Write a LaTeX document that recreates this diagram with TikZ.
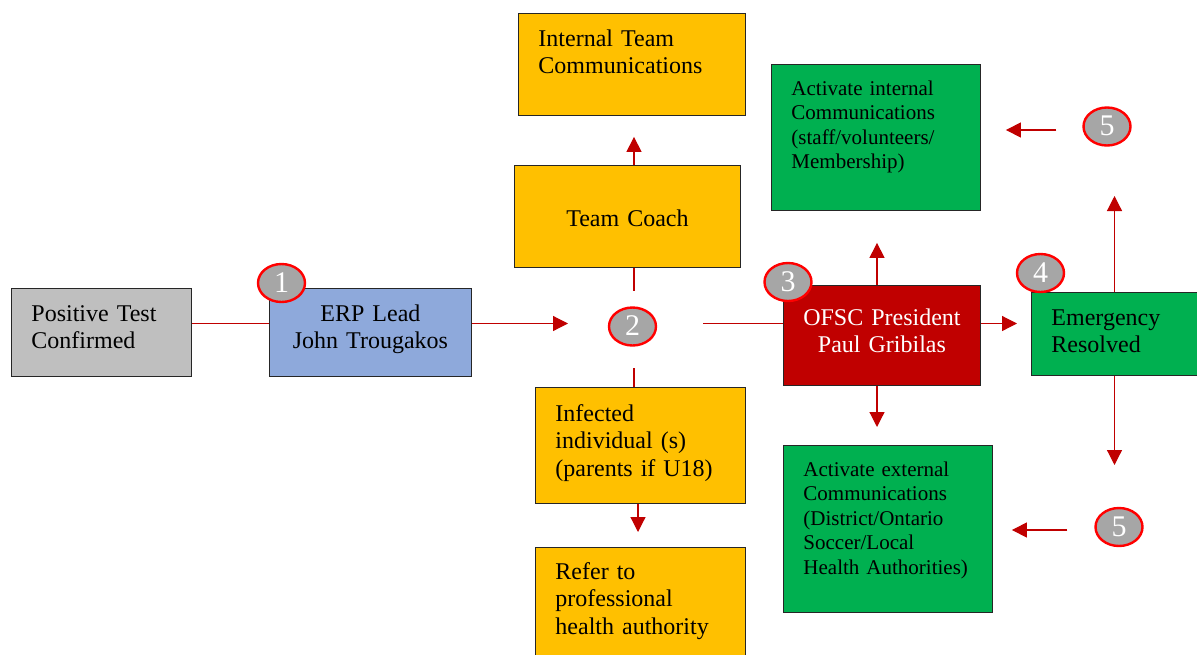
\documentclass[tikz,border=0pt]{standalone}
\usepackage{fontspec}
\setmainfont{Liberation Serif}
\usetikzlibrary{arrows.meta,shapes.geometric}
\definecolor{boxgray}{HTML}{BFBFBF}
\definecolor{boxblue}{HTML}{8EA9DB}
\definecolor{boxorange}{HTML}{FFC000}
\definecolor{boxgreen}{HTML}{00B050}
\definecolor{boxred}{HTML}{C00000}
\definecolor{linered}{HTML}{C00000}
\definecolor{badgegray}{HTML}{A6A6A6}
\definecolor{badgering}{HTML}{FF0000}
\newcommand{\bigtxt}{\fontsize{24}{27.3}\selectfont}
\newcommand{\smalltxt}{\fontsize{21}{24.5}\selectfont}
\begin{document}
\begin{tikzpicture}[x=1pt,y=-1pt,
  boxbase/.style={draw=black!85, line width=0.9pt, inner ysep=0pt, inner xsep=20pt, anchor=north west},
  bigbox/.style={boxbase, font=\bigtxt},
  greenbox/.style={boxbase, fill=boxgreen, font=\smalltxt, align=left},
  badge/.style={ellipse, draw=badgering, line width=2.4pt, fill=badgegray, minimum width=47pt, minimum height=38pt, inner sep=0pt, text=white, font=\fontsize{30}{30}\selectfont, text height=18pt, text depth=0pt},
  link/.style={draw=linered, line width=1.2pt},
  arr/.style={link, -{Triangle[length=15pt,width=15pt]}, color=linered}
]
\useasboundingbox (0,0) rectangle (1197,654);

% boxes
\node[bigbox, fill=boxgray, text width=140pt, align=left, text height=33pt, text depth=55pt] (pos) at (11,288) {Positive Test\\Confirmed};
\node[bigbox, fill=boxblue, text width=162pt, align=center, text height=33pt, text depth=55pt] (erp) at (269,288) {ERP Lead\\John Trougakos};
\node[bigbox, fill=boxorange, text width=186pt, align=center, text height=61pt, text depth=41pt] (coach) at (514,165) {Team Coach};
\node[bigbox, fill=boxorange, text width=187pt, align=left, text height=33pt, text depth=69pt] (itc) at (518,13) {Internal Team\\Communications};
\node[bigbox, fill=boxorange, text width=170pt, align=left, text height=34pt, text depth=82pt] (inf) at (535,387) {Infected\\individual (s)\\(parents if U18)};
\node[bigbox, fill=boxorange, text width=170pt, align=left, text height=32pt, text depth=86pt] (ref) at (535,547) {Refer to\\professional\\health authority};
\node[bigbox, fill=boxred, text=white, inner xsep=6pt, text width=185pt, align=center, text height=40pt, text depth=60pt] (ofsc) at (783,285) {OFSC President\\Paul Gribilas};
\node[bigbox, fill=boxgreen, text width=134pt, align=left, text height=33pt, text depth=50pt] (emer) at (1031,292) {Emergency\\Resolved};
\node[greenbox, text width=169pt, text height=31pt, text depth=115pt] (aint) at (771,64) {Activate internal\\Communications\\(staff/volunteers/\\Membership)};
\node[greenbox, text width=169pt, text height=31pt, text depth=136pt] (aext) at (783,445) {Activate external\\Communications\\(District/Ontario\\Soccer/Local\\Health Authorities)};

% badges
\node[badge] (b1) at (281.5,283) {1};
\node[badge] (b2) at (632.5,326.5) {2};
\node[badge] (b3) at (788,282) {3};
\node[badge] (b4) at (1040.5,273) {4};
\node[badge] (b5a) at (1107,126.5) {5};
\node[badge] (b5b) at (1119,527) {5};

% helper coordinates
\coordinate (midline) at (0,323.5);
\coordinate (c2w) at (568,323.5);
\coordinate (c2e) at (703,323.5);
\coordinate (c2n) at (634,291);
\coordinate (c2s) at (634,368);
\coordinate (infx) at (638,0);
\coordinate (ofx) at (877,0);
\coordinate (e5n) at (1114.5,196);
\coordinate (e5s) at (1114.5,465);
\coordinate (y5a) at (0,130);
\coordinate (y5b) at (0,530);

% connectors
\draw[link] (pos.east |- midline) -- (erp.west |- midline);
\draw[arr] (erp.east |- midline) -- (c2w);
\draw[link] (c2e) -- (ofsc.west |- midline);
\draw[link] (c2n |- coach.south) -- (c2n);
\draw[link] (c2s) -- (c2s |- inf.north);
\draw[arr, shorten >=21pt] (c2n |- coach.north) -- (c2n |- itc.south);
\draw[arr, shorten >=15pt] (infx |- inf.south) -- (infx |- ref.north);
\draw[arr, shorten >=32pt] (ofx |- ofsc.north) -- (ofx |- aint.south);
\draw[arr, shorten >=18pt] (ofx |- ofsc.south) -- (ofx |- aext.north);
\draw[arr, shorten >=14pt] (ofsc.east |- midline) -- (emer.west |- midline);
\draw[arr] (e5n |- emer.north) -- (e5n);
\draw[arr] (e5s |- emer.south) -- (e5s);
\draw[arr, shorten <=26pt, shorten >=25pt] (b5a.west |- y5a) -- (aint.east |- y5a);
\draw[arr, shorten <=27pt, shorten >=19pt] (b5b.west |- y5b) -- (aext.east |- y5b);
\end{tikzpicture}
\end{document}
